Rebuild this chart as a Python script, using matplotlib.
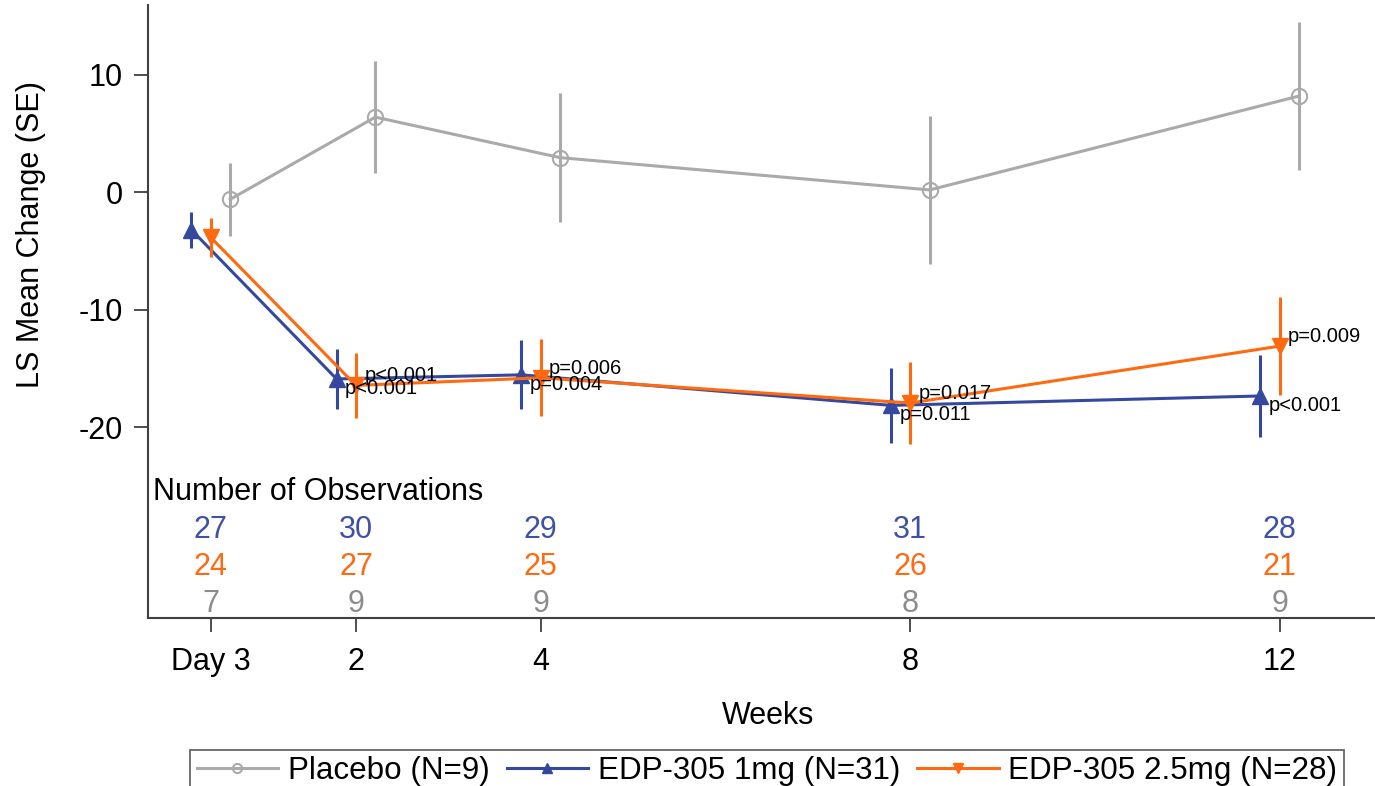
import matplotlib.pyplot as plt
import numpy as np

# Arial-like font, plain hyphen for negatives
plt.rcParams['font.family'] = ['Liberation Sans', 'DejaVu Sans']
plt.rcParams['axes.unicode_minus'] = False

visits = ['Day 3', '2', '4', '8', '12']
weeks = np.array([3 / 7, 2, 4, 8, 12])

placebo_mean = [-0.6, 6.4, 2.95, 0.2, 8.2]
placebo_se = [3.1, 4.8, 5.5, 6.3, 6.3]
low_mean = [-3.2, -15.9, -15.55, -18.15, -17.35]
low_se = [1.56, 2.55, 2.95, 3.17, 3.48]
high_mean = [-3.85, -16.45, -15.8, -17.95, -13.1]
high_se = [1.67, 2.77, 3.27, 3.51, 4.2]

low_p = ['', 'p<0.001', 'p=0.004', 'p=0.011', 'p<0.001']
high_p = ['', 'p<0.001', 'p=0.006', 'p=0.017', 'p=0.009']

n_low = [27, 30, 29, 31, 28]
n_high = [24, 27, 25, 26, 21]
n_placebo = [7, 9, 9, 8, 9]

c_placebo = '#AAAAAA'
c_low = '#34499E'
c_high = '#FF6A10'
c_axis = '#404040'

fig = plt.figure(figsize=(13.75, 7.86), dpi=100)
ax = fig.add_axes([148 / 1375, 168 / 786, 1227 / 1375, 613 / 786])

groups = [
    ('Placebo (N=9)', placebo_mean, placebo_se, c_placebo, 'o', 0.21),
    ('EDP-305 1mg (N=31)', low_mean, low_se, c_low, '^', -0.21),
    ('EDP-305 2.5mg (N=28)', high_mean, high_se, c_high, 'v', 0.0),
]

handles = []
for label, m, se, col, mk, off in groups:
    x = weeks + off
    ax.errorbar(x, m, yerr=se, fmt='none', ecolor=col, elinewidth=2.2, capsize=0)
    if mk == 'o':
        ln, = ax.plot(x, m, color=col, lw=2.2, marker=mk, ms=11,
                      mfc='none', mec=col, mew=1.5, label=label)
    else:
        ln, = ax.plot(x, m, color=col, lw=2.2, marker=mk, ms=11.5,
                      mfc=col, mec=col, label=label)
    handles.append(ln)

# p-values
for i in range(len(weeks)):
    if low_p[i]:
        ax.annotate(low_p[i], (weeks[i] - 0.21, low_mean[i]), xytext=(6, 0),
                    textcoords='offset points', ha='left', va='top', fontsize=14.5)
    if high_p[i]:
        ax.annotate(high_p[i], (weeks[i], high_mean[i]), xytext=(6, 0),
                    textcoords='offset points', ha='left', va='bottom', fontsize=14.5)

# number of observations
ax.text(-0.2, -26.2, 'Number of Observations', fontsize=22, ha='left', va='baseline')
for i, w in enumerate(weeks):
    ax.text(w, -29.47, str(n_low[i]), color='#3F51A5', fontsize=22, ha='center', va='baseline')
    ax.text(w, -32.6, str(n_high[i]), color=c_high, fontsize=22, ha='center', va='baseline')
    ax.text(w, -35.72, str(n_placebo[i]), color='#8C8C8C', fontsize=22, ha='center', va='baseline')

ax.set_xlim(-0.251, 13.03)
ax.set_ylim(-36.26, 15.95)
ax.set_xticks(weeks)
ax.set_xticklabels(visits)
ax.set_yticks([-20, -10, 0, 10])
ax.tick_params(axis='both', labelsize=22, length=10, width=1.3, pad=8, color=c_axis)
ax.tick_params(axis='x', pad=11)

for s in ['top', 'right']:
    ax.spines[s].set_visible(False)
for s in ['left', 'bottom']:
    ax.spines[s].set_color(c_axis)
    ax.spines[s].set_linewidth(1.5)

ax.set_xlabel('Weeks', fontsize=22)
ax.xaxis.set_label_coords((768 - 148) / 1227, -0.136)
ax.set_ylabel('LS Mean Change (SE)', fontsize=22)
ax.yaxis.set_label_coords((46 - 148) / 1227, (618 - 234) / 613)

leg = fig.legend(handles=handles, loc='upper center', bbox_to_anchor=(767 / 1375, 36 / 786),
                 ncol=3, fontsize=22.6, frameon=True, fancybox=False, edgecolor=c_axis,
                 handlelength=2.6, columnspacing=0.55, handletextpad=0.3, borderpad=0.2,
                 markerscale=0.6, borderaxespad=0)
leg.get_frame().set_linewidth(1.3)

fig.savefig('out.png', dpi=100)
